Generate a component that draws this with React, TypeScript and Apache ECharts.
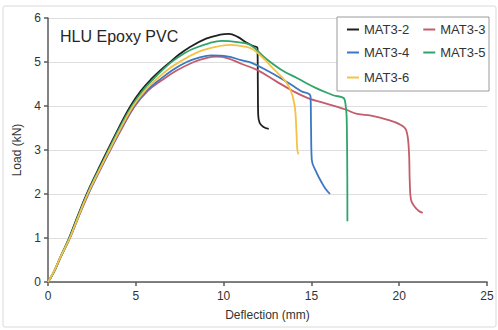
import React, { useEffect, useRef } from "react";
import * as echarts from "echarts";

const seriesNames = ["MAT3-2", "MAT3-3", "MAT3-4", "MAT3-5", "MAT3-6"];
const seriesColors = ["#1f1f1f", "#c45c6c", "#3a78c2", "#2fa56c", "#f6c244"];

const mat32: number[][] = [
  [0, 0], [0.3, 0.2], [0.7, 0.56], [1.2, 1.0], [1.7, 1.51], [2.2, 2.0], [2.8, 2.51],
  [3.4, 3.0], [4.05, 3.52], [4.7, 4.0], [5.3, 4.35], [5.9, 4.62], [6.4, 4.81],
  [6.9, 4.98], [7.5, 5.18], [8.0, 5.32], [9.0, 5.53], [9.8, 5.62], [10.3, 5.64],
  [10.8, 5.57], [11.3, 5.44], [11.7, 5.36], [11.93, 5.32], [11.95, 4.5], [11.97, 3.8],
  [12.05, 3.62], [12.25, 3.53], [12.57, 3.48],
];
const mat33: number[][] = [
  [0, 0], [0.3, 0.2], [0.7, 0.55], [1.25, 1.0], [1.77, 1.51], [2.3, 2.0], [2.92, 2.51],
  [3.55, 3.0], [4.25, 3.52], [4.95, 4.0], [5.7, 4.35], [6.4, 4.56], [7.3, 4.8],
  [8.3, 5.0], [9.0, 5.09], [9.6, 5.12], [10.2, 5.09], [11.0, 4.96], [11.9, 4.82],
  [13.0, 4.56], [14.0, 4.33], [14.8, 4.18], [15.7, 4.07], [16.4, 3.99], [16.95, 3.92],
  [17.6, 3.82], [18.4, 3.78], [19.3, 3.69], [20.1, 3.57], [20.4, 3.45], [20.55, 3.0],
  [20.6, 2.3], [20.67, 1.87], [20.86, 1.72], [21.1, 1.62], [21.34, 1.57],
];
const mat34: number[][] = [
  [0, 0], [0.3, 0.2], [0.7, 0.55], [1.25, 1.0], [1.76, 1.51], [2.28, 2.0], [2.9, 2.51],
  [3.52, 3.0], [4.2, 3.52], [4.9, 4.0], [5.6, 4.34], [6.3, 4.58], [7.1, 4.82],
  [7.9, 5.0], [8.6, 5.1], [9.3, 5.15], [10.2, 5.13], [11.0, 5.04], [11.6, 4.98],
  [12.5, 4.8], [13.3, 4.62], [13.9, 4.47], [14.4, 4.34], [14.95, 4.22], [14.98, 3.5],
  [15.02, 2.78], [15.3, 2.48], [15.6, 2.25], [15.8, 2.12], [16.06, 2.0],
];
const mat35: number[][] = [
  [0, 0], [0.3, 0.2], [0.7, 0.56], [1.22, 1.0], [1.73, 1.51], [2.23, 2.0], [2.84, 2.51],
  [3.45, 3.0], [4.1, 3.52], [4.78, 4.0], [5.4, 4.35], [6.0, 4.61], [6.6, 4.85],
  [7.1, 5.02], [7.7, 5.18], [8.2, 5.29], [9.2, 5.43], [9.9, 5.48], [10.8, 5.45],
  [11.5, 5.39], [12.4, 5.08], [13.3, 4.82], [14.2, 4.63], [15.3, 4.4], [16.2, 4.25],
  [16.9, 4.14], [17.02, 3.5], [17.05, 1.38],
];
const mat36: number[][] = [
  [0, 0], [0.3, 0.21], [0.7, 0.56], [1.24, 1.0], [1.75, 1.51], [2.26, 2.0], [2.88, 2.51],
  [3.5, 3.0], [4.17, 3.52], [4.85, 4.0], [5.5, 4.34], [6.1, 4.58], [6.8, 4.82],
  [7.4, 4.98], [8.5, 5.22], [9.5, 5.34], [10.4, 5.39], [11.2, 5.35], [11.7, 5.28],
  [12.3, 5.07], [12.9, 4.82], [13.4, 4.62], [13.8, 4.38], [14.05, 4.0], [14.15, 3.4],
  [14.2, 3.0], [14.27, 2.9],
];
const allData = [mat32, mat33, mat34, mat35, mat36];

const xTicks = { min: 0, max: 25, interval: 5 };
const yTicks = { min: 0, max: 6, interval: 1 };

export default function App() {
  const ref = useRef<HTMLDivElement>(null);
  useEffect(() => {
    if (!ref.current) return;
    const chart = echarts.init(ref.current, undefined, { renderer: "svg" });
    const font = "Liberation Sans, Arial, sans-serif";
    const axisColor = "#5a5a5a";
    const legendRows = [
      { data: [seriesNames[0], seriesNames[1]], top: 23 },
      { data: [seriesNames[2], seriesNames[3]], top: 46 },
      { data: [seriesNames[4]], top: 71 },
    ];
    chart.setOption({
      animation: false,
      backgroundColor: "#ffffff",
      textStyle: { fontFamily: font },
      graphic: [
        {
          type: "rect",
          shape: { x: 3, y: 6, width: 493, height: 321, r: 2 },
          style: { fill: "none", stroke: "#d9d9d9", lineWidth: 1 },
          z: -10,
          silent: true,
        },
        {
          type: "rect",
          shape: { x: 337, y: 17, width: 152, height: 74 },
          style: { fill: "#ffffff", stroke: "#9a9a9a", lineWidth: 1 },
          z: 5,
          silent: true,
        },
        {
          type: "text",
          x: 60,
          y: 36,
          style: {
            text: "HLU Epoxy PVC",
            fill: "#262626",
            font: `16px ${font}`,
            verticalAlign: "middle",
          },
          silent: true,
        },
      ],
      legend: legendRows.map((r) => ({
        data: r.data,
        left: 347,
        top: r.top,
        padding: 0,
        itemGap: 14,
        icon: "rect",
        itemWidth: 12,
        itemHeight: 2,
        z: 10,
        textStyle: { fontSize: 13, color: "#333333", fontFamily: font },
      })),
      grid: { left: 48, right: 11, top: 18, bottom: 48 },
      xAxis: {
        type: "value",
        min: xTicks.min,
        max: xTicks.max,
        interval: xTicks.interval,
        name: "Deflection (mm)",
        nameLocation: "middle",
        nameGap: 27,
        nameTextStyle: { fontSize: 12, color: "#333333", fontFamily: font },
        axisLine: { show: true, onZero: false, lineStyle: { color: axisColor, width: 1.5 } },
        axisTick: { show: true, inside: false, length: 4, lineStyle: { color: axisColor, width: 1.5 } },
        axisLabel: { fontSize: 12, color: "#333333", margin: 8, fontFamily: font },
        splitLine: { show: false },
      },
      yAxis: {
        type: "value",
        min: yTicks.min,
        max: yTicks.max,
        interval: yTicks.interval,
        name: "Load (kN)",
        nameLocation: "middle",
        nameGap: 20,
        nameTextStyle: { fontSize: 12, color: "#333333", fontFamily: font },
        axisLine: { show: true, lineStyle: { color: axisColor, width: 1.5 } },
        axisTick: { show: true, inside: false, length: 4, lineStyle: { color: axisColor, width: 1.5 } },
        axisLabel: { fontSize: 12, color: "#333333", margin: 7, fontFamily: font },
        splitLine: { show: true, lineStyle: { color: "#dedede", width: 1 } },
      },
      series: allData.map((d, i) => ({
        name: seriesNames[i],
        type: "line",
        data: d,
        symbol: "none",
        smooth: 0.4,
        color: seriesColors[i],
        lineStyle: { color: seriesColors[i], width: 1.8 },
      })),
    });
    return () => chart.dispose();
  }, []);
  return (
    <div
      ref={ref}
      style={{ position: "fixed", left: 0, top: 0, width: 498, height: 330 }}
    />
  );
}
